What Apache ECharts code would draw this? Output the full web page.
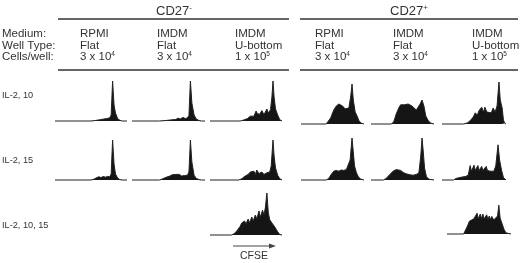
<!DOCTYPE html>
<html>
<head>
<meta charset="utf-8">
<script src="https://cdn.jsdelivr.net/npm/echarts@6/dist/echarts.min.js"></script>
<style>
  html, body { margin: 0; padding: 0; background: #fff; }
  #chart { width: 520px; height: 263px; }
</style>
</head>
<body>
<div id="chart"></div>
<script>
// header text
const groups = ['CD27', 'CD27'];
const groupSigns = ['-', '+'];
const headerNames = ['Medium:', 'Well Type:', 'Cells/well:'];
const mediums = ['RPMI', 'IMDM', 'IMDM', 'RPMI', 'IMDM', 'IMDM'];
const wellTypes = ['Flat', 'Flat', 'U-bottom', 'Flat', 'Flat', 'U-bottom'];
const cellBases = ['3 x 10', '3 x 10', '1 x 10', '3 x 10', '3 x 10', '1 x 10'];
const cellExps = ['4', '4', '5', '4', '4', '5'];
const conditions = ['IL-2, 10', 'IL-2, 15', 'IL-2, 10, 15'];
const axisName = 'CFSE';

// CFSE histograms: [CFSE position (0-100), relative cell count]
const negRpmi10 = [[0,0],[50,0],[55,1],[62,3],[68,5],[72,6],[76,8],[78,15],[80,100],[82,40],[84,20],[87,6],[90,2],[93,0],[100,0]];
const negImdmFlat10 = [[0,0],[38,0],[45,1],[55,3],[60,4],[63,7],[66,5],[70,9],[73,6],[76,8],[78,14],[80,100],[82,45],[85,15],[88,5],[92,1],[95,0],[100,0]];
const negImdmU10 = [[0,0],[42,0],[46,2],[52,6],[56,12],[58,16],[61,12],[64,25],[66,18],[69,17],[72,26],[75,16],[79,30],[81,20],[84,28],[86,60],[87.5,100],[89,60],[91,30],[94,15],[97,3],[100,0]];
const posRpmi10 = [[0,0],[40,0],[43,3],[47,15],[52,35],[56,45],[60,50],[63,48],[66,45],[70,38],[73,35],[76,40],[79,70],[81,100],[83,60],[86,30],[89,20],[92,8],[96,2],[100,0]];
const posImdmFlat10 = [[0,0],[32,0],[36,5],[40,25],[44,40],[47,48],[50,52],[53,48],[56,53],[59,50],[62,52],[65,45],[68,44],[72,35],[75,34],[78,50],[81,60],[84,45],[87,20],[91,8],[95,2],[100,0]];
const posImdmU10 = [[0,0],[34,0],[40,3],[45,10],[49,18],[52,28],[55,22],[58,34],[62,42],[65,30],[67,42],[70,30],[73,32],[77,28],[80,40],[83,30],[86,45],[89,105],[91,60],[94,40],[96,10],[98,2],[100,0]];

const negRpmi15 = [[0,0],[50,0],[54,2],[58,6],[61,8],[64,6],[67,9],[70,7],[73,9],[76,8],[78,15],[80,100],[82,40],[84,15],[87,5],[90,1],[93,0],[100,0]];
const negImdmFlat15 = [[0,0],[38,0],[42,3],[47,7],[52,10],[55,13],[57,10],[60,14],[62,10],[65,14],[68,10],[72,11],[76,12],[78,20],[80,100],[82,45],[85,12],[88,4],[92,1],[95,0],[100,0]];
const negImdmU15 = [[0,0],[40,0],[44,3],[49,10],[53,14],[56,20],[58,15],[61,22],[63,14],[65,25],[68,16],[72,20],[75,14],[79,18],[83,20],[85,35],[87.5,100],[89,60],[91,30],[94,12],[97,3],[100,0]];
const posRpmi15 = [[0,0],[40,0],[44,4],[48,14],[52,22],[56,24],[60,22],[64,25],[68,24],[72,26],[75,30],[78,50],[81,105],[83,70],[85,35],[88,18],[91,8],[95,2],[100,0]];
const posImdmFlat15 = [[0,0],[20,0],[24,4],[30,14],[35,22],[40,26],[43,28],[47,24],[52,18],[57,15],[62,13],[67,12],[72,14],[76,18],[79,60],[81,105],[83,70],[85,30],[88,8],[92,2],[100,0]];
const posImdmU15 = [[0,0],[18,0],[22,4],[30,7],[37,9],[41,12],[44,36],[46,22],[50,37],[52,24],[56,36],[58,24],[62,34],[64,24],[69,34],[71,24],[75,22],[78,25],[81,22],[84,35],[87.5,88],[90,50],[93,25],[96,6],[100,0]];

const negImdmU1015 = [[0,0],[30,0],[34,4],[38,12],[42,22],[44,30],[46,25],[48,35],[50,28],[53,40],[55,30],[58,45],[60,35],[63,50],[65,40],[68,60],[70,45],[73,62],[75,50],[77,70],[79,105],[81,55],[83,38],[86,30],[90,20],[94,8],[97,1],[100,0]];
const posImdmU1015 = [[0,0],[26,0],[29,5],[32,20],[35,32],[38,35],[42,38],[45,35],[47,52],[49,38],[52,50],[54,38],[56,50],[58,38],[62,48],[64,36],[66,45],[68,36],[70,44],[73,35],[76,38],[79,45],[81,72],[83,40],[86,35],[89,12],[92,3],[95,0],[100,0]];

// panel placement (left, baseline y, width) in px
const panels = [
  { data: negRpmi10,     left: 55,  base: 121, width: 72 },
  { data: negImdmFlat10, left: 132, base: 121, width: 73 },
  { data: negImdmU10,    left: 210, base: 121, width: 72 },
  { data: posRpmi10,     left: 301, base: 124, width: 63 },
  { data: posImdmFlat10, left: 371, base: 124, width: 63 },
  { data: posImdmU10,    left: 442, base: 124, width: 64 },
  { data: negRpmi15,     left: 55,  base: 180, width: 72 },
  { data: negImdmFlat15, left: 132, base: 180, width: 73 },
  { data: negImdmU15,    left: 210, base: 180, width: 72 },
  { data: posRpmi15,     left: 301, base: 180, width: 63 },
  { data: posImdmFlat15, left: 371, base: 180, width: 63 },
  { data: posImdmU15,    left: 442, base: 180, width: 64 },
  { data: negImdmU1015,  left: 210, base: 235, width: 72 },
  { data: posImdmU1015,  left: 447, base: 234, width: 64 },
];

const FONT = '"Liberation Sans", Arial, sans-serif';
const TXT = '#333';
const PANEL_H = 42;

const chart = echarts.init(document.getElementById('chart'));

const grid = [], xAxis = [], yAxis = [], series = [];
panels.forEach((p, i) => {
  grid.push({ left: p.left, top: p.base - PANEL_H, width: p.width, height: PANEL_H });
  xAxis.push({ type: 'value', gridIndex: i, min: 0, max: 100, show: false });
  yAxis.push({ type: 'value', gridIndex: i, min: 0, max: 105, show: false });
  series.push({
    type: 'line',
    xAxisIndex: i,
    yAxisIndex: i,
    data: p.data,
    symbol: 'none',
    clip: false,
    silent: true,
    lineStyle: { color: '#222', width: 1 },
    areaStyle: { color: '#151515', opacity: 1 },
  });
});

function txt(x, y, text, size, align, extra) {
  return {
    type: 'text', x, y, silent: true,
    style: Object.assign({
      text, fontSize: size, fontFamily: FONT, fill: TXT,
      align: align || 'left', verticalAlign: 'middle',
    }, extra || {}),
  };
}

function line(x1, y1, x2, y2, w, color) {
  return {
    type: 'line', silent: true,
    shape: { x1, y1, x2, y2 },
    style: { stroke: color || '#333', lineWidth: w || 1.5 },
  };
}

const graphic = [];
// group titles with superscript sign
const groupX = [174, 409];
groups.forEach((g, i) => {
  graphic.push(txt(groupX[i], 11, `{b|${g}}{s|${groupSigns[i]}}`, 13, 'center', {
    rich: {
      b: { fontSize: 13, fontFamily: FONT, fill: TXT, lineHeight: 14 },
      s: { fontSize: 8, fontFamily: FONT, fill: TXT, verticalAlign: 'top', lineHeight: 14 },
    },
  }));
});
graphic.push(line(58, 19, 289, 19), line(300, 19, 518, 19));
graphic.push(line(58, 70, 289, 70), line(300, 70, 518, 70));

const rowY = [34, 45.5, 57];
headerNames.forEach((h, i) => graphic.push(txt(2, rowY[i], h, 11.5)));
const colX = [80, 157, 235, 315, 393, 472];
colX.forEach((x, i) => {
  graphic.push(txt(x, rowY[0], mediums[i], 11.5));
  graphic.push(txt(x, rowY[1], wellTypes[i], 11.5));
  graphic.push(txt(x, rowY[2], `{b|${cellBases[i]}}{s|${cellExps[i]}}`, 11.5, 'left', {
    rich: {
      b: { fontSize: 11.5, fontFamily: FONT, fill: TXT, lineHeight: 13 },
      s: { fontSize: 6.5, fontFamily: FONT, fill: TXT, verticalAlign: 'top', lineHeight: 13 },
    },
  }));
});

const condY = [95.5, 160, 225.5];
conditions.forEach((c, i) => graphic.push(txt(2, condY[i], c, 9.2)));

// CFSE direction arrow
graphic.push(line(233, 246, 271, 246, 1, '#444'));
graphic.push({
  type: 'polygon', silent: true,
  shape: { points: [[269, 243.5], [276, 246], [269, 248.5]] },
  style: { fill: '#444' },
});
graphic.push(txt(254, 256.5, axisName, 10.5, 'center'));

chart.setOption({
  animation: false,
  backgroundColor: '#fff',
  grid, xAxis, yAxis, series, graphic,
});
</script>
</body>
</html>
